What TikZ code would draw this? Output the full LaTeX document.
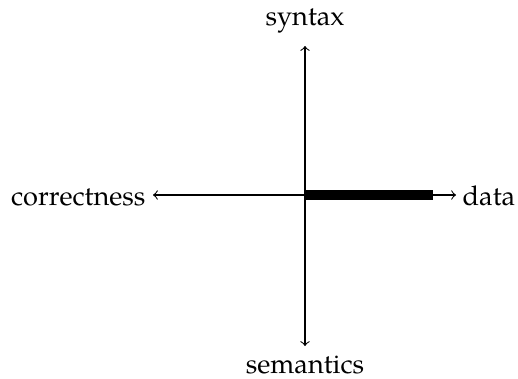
\documentclass[tikz,border=0pt]{standalone}
\usepackage{fontspec}
\setmainfont{TeX Gyre Pagella}
\begin{document}
\begin{tikzpicture}[x=0.375pt,y=-0.375pt,
  axis/.style={line width=0.4pt,<->},
  lab/.style={inner sep=0pt,font=\fontsize{10.2}{12}\selectfont},
  bar/.style={line width=3.75pt,line cap=butt}]
\useasboundingbox (0,0) rectangle (518,378);
\coordinate (O) at (305,195);
\coordinate (T) at (305,46);
\coordinate (B) at (305,346);
\coordinate (L) at (153,195);
\coordinate (R) at (456,195);
\coordinate (E) at (433,195);
\node[lab,anchor=base] (syn) at (305,25) {syntax};
\node[lab,anchor=base] (sem) at (305,373) {semantics};
\node[lab,anchor=base east] (cor) at (146,205) {correctness};
\node[lab,anchor=base west] (dat) at (462,205) {data};
\draw[axis] (L) -- (R);
\draw[axis] (B) -- (T);
\draw[bar] (O) -- (E);
\end{tikzpicture}
\end{document}
